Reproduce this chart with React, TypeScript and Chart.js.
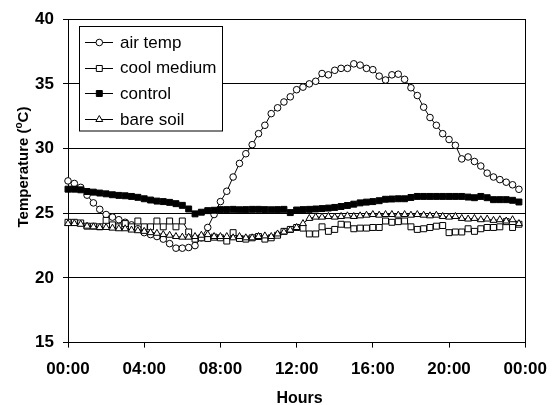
import React, { useEffect, useRef } from 'react';
import { Chart, registerables } from 'chart.js';

Chart.register(...registerables);

// sampling: one reading every 20 minutes, 00:00 .. 23:40
const stepMinutes = 20;

const airTemp = [
  27.5, 27.3, 27.0, 26.4, 25.8, 25.3, 24.9, 24.7, 24.5, 24.3, 24.1, 23.8,
  23.5, 23.35, 23.2, 23.0, 22.65, 22.3, 22.3, 22.35, 22.5, 23.1, 23.9, 24.9,
  25.9, 26.7, 27.8, 28.85, 29.6, 30.3, 31.15, 31.8, 32.7, 33.15, 33.6, 34.0,
  34.55, 34.75, 35.0, 35.2, 35.8, 35.7, 36.05, 36.2, 36.2, 36.55, 36.45, 36.2,
  36.1, 35.6, 35.3, 35.7, 35.75, 35.35, 34.7, 34.1, 33.2, 32.4, 31.8, 31.15,
  30.7, 30.25, 29.2, 29.35, 29.0, 28.65, 28.1, 27.8, 27.6, 27.4, 27.2, 26.85,
];

const coolMedium = [
  24.3, 24.3, 24.25, 24.0, 24.0, 23.95, 24.45, 24.1, 23.95, 24.2, 23.95, 24.4,
  23.95, 23.95, 24.4, 23.95, 24.4, 23.95, 24.4, 23.55, 23.0, 23.1, 23.05, 23.15,
  23.1, 22.85, 23.5, 23.05, 23.0, 23.1, 23.2, 23.0, 23.1, 23.3, 23.6, 23.75,
  23.9, 23.85, 23.4, 23.4, 23.95, 23.6, 23.75, 24.15, 24.1, 23.8, 23.85, 23.85,
  23.9, 23.9, 24.4, 24.3, 24.35, 24.4, 23.95, 23.75, 23.8, 23.9, 24.0, 24.05,
  23.5, 23.55, 23.55, 23.8, 23.6, 23.8, 23.9, 23.9, 23.95, 24.35, 23.9, 24.15,
];

const control = [
  26.86, 26.86, 26.81, 26.68, 26.63, 26.56, 26.5, 26.43, 26.38, 26.35, 26.3, 26.23,
  26.12, 26.02, 25.94, 25.9, 25.84, 25.74, 25.61, 25.33, 24.95, 25.08, 25.2, 25.23,
  25.28, 25.28, 25.3, 25.27, 25.28, 25.3, 25.3, 25.28, 25.27, 25.28, 25.3, 25.05,
  25.25, 25.28, 25.3, 25.33, 25.36, 25.4, 25.45, 25.52, 25.6, 25.7, 25.8, 25.86,
  25.9, 25.97, 26.08, 26.1, 26.12, 26.12, 26.22, 26.3, 26.3, 26.3, 26.3, 26.3,
  26.3, 26.3, 26.3, 26.25, 26.2, 26.3, 26.2, 26.05, 26.05, 26.05, 26.0, 25.87,
];

const bareSoil = [
  24.2, 24.2, 24.15, 24.0, 23.95, 23.9, 23.9, 23.85, 23.8, 23.8, 23.7, 23.65,
  23.6, 23.5, 23.45, 23.35, 23.3, 23.2, 23.15, 23.15, 23.2, 23.3, 23.35, 23.2,
  23.2, 23.2, 23.1, 23.2, 23.1, 23.1, 23.2, 23.25, 23.2, 23.4, 23.55, 23.7,
  23.9, 24.2, 24.6, 24.7, 24.7, 24.75, 24.7, 24.75, 24.8, 24.75, 24.8, 24.85,
  24.9, 24.85, 24.9, 24.9, 24.85, 24.9, 24.85, 24.9, 24.85, 24.8, 24.85, 24.75,
  24.7, 24.75, 24.6, 24.55, 24.6, 24.5, 24.55, 24.45, 24.5, 24.4, 24.5, 24.2,
];

const seriesNames = ['air temp', 'cool medium', 'control', 'bare soil'];
const xTickHours = [0, 4, 8, 12, 16, 20, 24];
const yTicks = [15, 20, 25, 30, 35, 40];

const FONT = '"Liberation Sans", Arial, sans-serif';

const toPoints = (arr: number[]) =>
  arr.map((v, i) => ({ x: (i * stepMinutes) / 60, y: v }));

const fmtHour = (h: number) => `${String(((h % 24) + 24) % 24).padStart(2, '0')}:00`;

function drawMarker(ctx: CanvasRenderingContext2D, style: string, x: number, y: number, r: number, fill: string) {
  ctx.beginPath();
  if (style === 'circle') {
    ctx.arc(x, y, r, 0, Math.PI * 2);
  } else if (style === 'rect') {
    const s = Math.SQRT1_2 * r;
    ctx.rect(x - s, y - s, 2 * s, 2 * s);
  } else {
    const w = r * Math.sin((2 * Math.PI) / 3);
    ctx.moveTo(x, y - r);
    ctx.lineTo(x + w, y + r / 2);
    ctx.lineTo(x - w, y + r / 2);
    ctx.closePath();
  }
  ctx.fillStyle = fill;
  ctx.fill();
  ctx.lineWidth = 1;
  ctx.strokeStyle = '#000';
  ctx.stroke();
}

const framePlugin = {
  id: 'frame',
  beforeDatasetsDraw(chart: any) {
    const { ctx, chartArea: a } = chart;
    ctx.save();
    ctx.strokeStyle = '#000';
    ctx.lineWidth = 1;
    ctx.strokeRect(Math.round(a.left) + 0.5, Math.round(a.top) + 0.5, Math.round(a.right - a.left), Math.round(a.bottom - a.top));
    ctx.restore();
  },
  afterDatasetsDraw(chart: any) {
    const { ctx } = chart;
    ctx.save();
    const bx = 79.5, by = 26.5, bw = 143, bh = 104.5;
    ctx.fillStyle = '#fff';
    ctx.fillRect(bx, by, bw, bh);
    ctx.strokeStyle = '#000';
    ctx.lineWidth = 1;
    ctx.strokeRect(bx, by, bw, bh);
    chart.data.datasets.forEach((ds: any, i: number) => {
      const y = 42 + i * 25.7;
      ctx.beginPath();
      ctx.moveTo(85, Math.round(y) + 0.5);
      ctx.lineTo(113, Math.round(y) + 0.5);
      ctx.strokeStyle = '#000';
      ctx.lineWidth = 1;
      ctx.stroke();
      drawMarker(ctx, ds.pointStyle, 99.3, Math.round(y) + 0.5, ds.pointRadius, ds.pointBackgroundColor);
      ctx.fillStyle = '#000';
      ctx.font = `17px ${FONT}`;
      ctx.textBaseline = 'middle';
      ctx.textAlign = 'left';
      ctx.fillText(ds.label, 120, y + 1);
    });
    ctx.restore();
  },
  afterDraw(chart: any) {
    const { ctx } = chart;
    ctx.save();
    ctx.fillStyle = '#000';
    ctx.font = `bold 16px ${FONT}`;
    ctx.textAlign = 'center';
    ctx.textBaseline = 'alphabetic';
    ctx.fillText('Hours', 299.5, 403);
    ctx.translate(28, 167);
    ctx.rotate(-Math.PI / 2);
    const big = `bold 15px ${FONT}`;
    const small = `bold 10px ${FONT}`;
    const p1 = 'Temperature (';
    const p2 = 'o';
    const p3 = 'C)';
    ctx.font = big;
    const w1 = ctx.measureText(p1).width;
    const w3 = ctx.measureText(p3).width;
    ctx.font = small;
    const w2 = ctx.measureText(p2).width;
    let x = -(w1 + w2 + w3) / 2;
    ctx.textAlign = 'left';
    ctx.font = big;
    ctx.fillText(p1, x, 0);
    x += w1;
    ctx.font = small;
    ctx.fillText(p2, x, -6);
    x += w2;
    ctx.font = big;
    ctx.fillText(p3, x, 0);
    ctx.restore();
  },
};

export default function App() {
  const ref = useRef<HTMLCanvasElement | null>(null);

  useEffect(() => {
    if (!ref.current) return;
    const styles = [
      { pointStyle: 'circle', pointRadius: 3.3, pointBackgroundColor: '#fff' },
      { pointStyle: 'rect', pointRadius: 4.2, pointBackgroundColor: '#fff' },
      { pointStyle: 'rect', pointRadius: 4.2, pointBackgroundColor: '#000' },
      { pointStyle: 'triangle', pointRadius: 4, pointBackgroundColor: '#fff' },
    ];
    const values = [airTemp, coolMedium, control, bareSoil];
    const chart = new Chart(ref.current, {
      type: 'line',
      data: {
        datasets: values.map((vals, i) => ({
          label: seriesNames[i],
          data: toPoints(vals),
          borderColor: '#000',
          borderWidth: 1,
          pointBorderColor: '#000',
          pointBorderWidth: 1,
          ...styles[i],
          tension: 0,
          clip: false as any,
          order: 4 - i,
        })),
      },
      options: {
        responsive: false,
        animation: false,
        events: [],
        layout: { padding: { left: 0, right: 28, top: 16, bottom: 0 } },
        plugins: { legend: { display: false }, tooltip: { enabled: false }, title: { display: false } },
        scales: {
          x: {
            type: 'linear',
            min: 0,
            max: 24,
            afterBuildTicks: (s: any) => {
              s.ticks = xTickHours.map((v) => ({ value: v }));
            },
            afterFit: (s: any) => {
              s.height = 62.4;
            },
            ticks: {
              callback: (v: any) => fmtHour(Number(v)),
              font: { family: FONT, size: 17, weight: 'bold' },
              color: '#000',
              padding: 12,
              maxRotation: 0,
              autoSkip: false,
            },
            grid: { drawOnChartArea: false, drawTicks: true, tickLength: 5, color: '#000' },
            border: { color: '#000', width: 1 },
          },
          y: {
            min: 15,
            max: 40,
            afterBuildTicks: (s: any) => {
              s.ticks = yTicks.map((v) => ({ value: v }));
            },
            afterFit: (s: any) => {
              s.width = 68;
            },
            ticks: {
              font: { family: FONT, size: 17, weight: 'bold' },
              color: '#000',
              padding: 9,
            },
            grid: { color: '#000', tickLength: 5, lineWidth: 1 },
            border: { color: '#000', width: 1 },
          },
        },
      },
      plugins: [framePlugin],
    } as any);
    return () => chart.destroy();
  }, []);

  return (
    <div style={{ position: 'fixed', left: 0, top: 0, width: 559, height: 405, background: '#fff' }}>
      <canvas ref={ref} width={559} height={405} style={{ display: 'block' }} />
    </div>
  );
}
